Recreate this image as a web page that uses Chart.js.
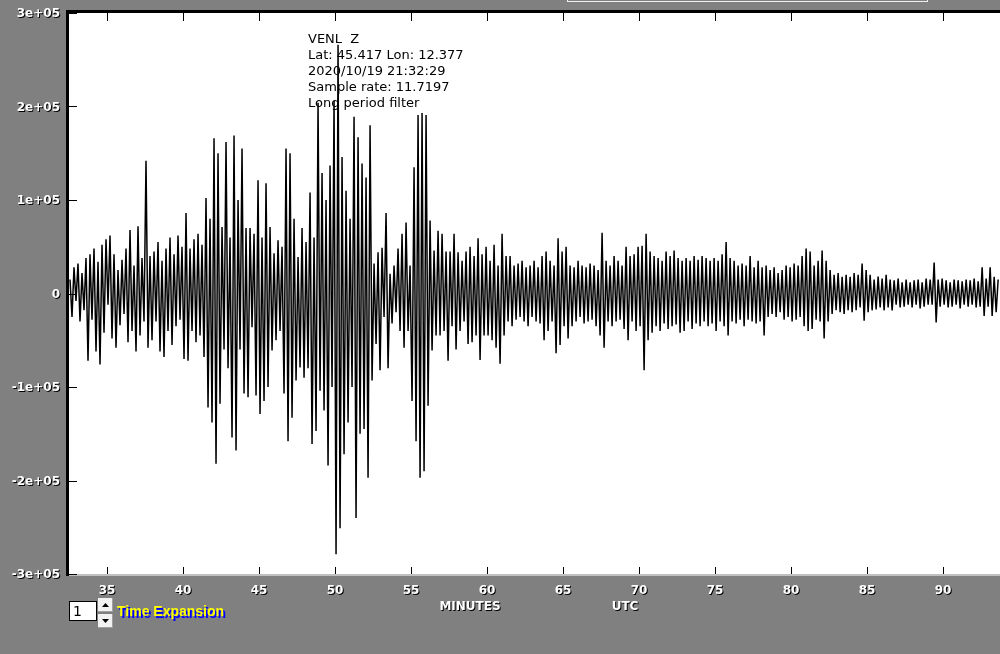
<!DOCTYPE html>
<html>
<head>
<meta charset="utf-8">
<script src="https://cdn.jsdelivr.net/npm/chart.js@4.4.1/dist/chart.umd.min.js"></script>
<style>
    body { margin: 0; background: #808080; overflow: hidden; }
    #seismo { display: block; }
</style>
</head>
<body>
<canvas id="seismo" width="1000" height="654"></canvas>
<script>
// trace peaks in thousands of counts, one every stepMin minutes
const startMin = 32.566;
const stepMin = 0.1316;
const traceK = [
    15, -25, 28, -8, 32, -30, 22, -18, 38, -72,
    42, -28, 48, -62, 34, -76, 52, -42, 58, -12,
    62, -48, 42, -58, 25, -34, 36, -22, 48, -52,
    68, -40, 30, -62, 72, -45, 38, -30, 142, -58,
    40, -50, 45, -30, 55, -62, 35, -68, 48, -40,
    60, -55, 42, -35, 62, -28, 50, -70, 86, -72,
    48, -40, 58, -52, 64, -45, 52, -68, 102, -122,
    80, -138, 166, -182, 150, -118, 71, -60, 162, -80,
    60, -154, 169, -168, 100, -60, 155, -107, 70, -111,
    70, -36, 64, -109, 121, -129, 60, -115, 118, -100,
    71, -61, 43, -50, 57, -40, 50, -107, 155, -158,
    150, -133, 80, -93, 39, -79, 70, -90, 55, -80,
    108, -161, 60, -147, 204, -104, 129, -125, 100, -184,
    137, -100, 206, -279, 266, -251, 146, -172, 110, -138,
    80, -100, 189, -240, 167, -150, 139, -145, 124, -197,
    180, -93, 32, -54, 44, -82, 49, -25, 86, -80,
    21, -32, 30, -20, 48, -40, 64, -58, 76, -40,
    30, -115, 135, -158, 191, -197, 193, -190, 191, -120,
    78, -61, 46, -45, 67, -45, 64, -40, 45, -72,
    45, -35, 64, -60, 44, -40, 35, -30, 45, -54,
    50, -52, 40, -45, 59, -71, 42, -45, 50, -45,
    35, -50, 52, -58, 30, -75, 64, -45, 40, -30,
    40, -35, 30, -28, 32, -25, 35, -30, 28, -35,
    30, -25, 35, -30, 28, -32, 40, -50, 45, -40,
    35, -30, 30, -64, 59, -55, 45, -35, 50, -48,
    30, -35, 28, -30, 35, -25, 30, -32, 28, -30,
    32, -28, 30, -35, 25, -45, 65, -58, 35, -30,
    30, -35, 40, -30, 35, -28, 30, -38, 50, -50,
    40, -30, 42, -40, 50, -35, 51, -82, 64, -50,
    45, -42, 40, -35, 38, -40, 35, -32, 45, -38,
    40, -35, 46, -33, 38, -42, 35, -40, 38, -30,
    35, -38, 40, -32, 36, -35, 40, -30, 38, -35,
    35, -32, 38, -40, 35, -30, 42, -35, 55, -45,
    38, -30, 35, -32, 30, -28, 32, -35, 30, -28,
    40, -30, 28, -32, 35, -30, 28, -45, 30, -25,
    25, -22, 28, -25, 22, -20, 25, -28, 30, -25,
    28, -30, 32, -28, 30, -25, 40, -35, 48, -40,
    45, -38, 30, -28, 35, -30, 46, -48, 35, -30,
    25, -22, 20, -18, 22, -20, 18, -22, 20, -18,
    18, -20, 22, -18, 20, -15, 32, -29, 25, -20,
    20, -18, 15, -17, 18, -15, 16, -18, 20, -15,
    15, -18, 14, -12, 16, -15, 12, -14, 15, -12,
    12, -15, 14, -12, 15, -16, 12, -14, 16, -12,
    15, -12, 33, -31, 15, -14, 16, -12, 14, -15,
    12, -14, 15, -12, 14, -16, 13, -12, 15, -14,
    14, -12, 16, -15, 13, -14, 28, -24, 16, -14,
    28, -24, 18, -20, 15
];
const xTicks = [35, 40, 45, 50, 55, 60, 65, 70, 75, 80, 85, 90];
const yTicks = [300000, 200000, 100000, 0, -100000, -200000, -300000];
const yTickLabels = ['3e+05', '2e+05', '1e+05', '0', '-1e+05', '-2e+05', '-3e+05'];
const infoLines = ['VENL  Z', 'Lat: 45.417 Lon: 12.377', '2020/10/19 21:32:29', 'Sample rate: 11.7197', 'Long period filter'];

let points = traceK.map(function (v, i) {
    return { x: startMin + i * stepMin, y: v * 1000 };
});

function shadowText(ctx, text, x, y, color, shade, dx, dy) {
    ctx.fillStyle = shade;
    ctx.fillText(text, x + dx, y + dy);
    ctx.fillStyle = color;
    ctx.fillText(text, x, y);
}

const frame = {
    id: 'frame',
    beforeDraw: function (chart) {
        const ctx = chart.ctx;
        const a = chart.chartArea;
        ctx.save();
        ctx.fillStyle = '#808080';
        ctx.fillRect(0, 0, chart.width, chart.height);
        ctx.fillStyle = '#ffffff';
        ctx.fillRect(a.left, a.top, a.right - a.left, a.bottom - a.top);
        ctx.restore();
    },
    afterDraw: function (chart) {
        const ctx = chart.ctx;
        const a = chart.chartArea;
        const x = chart.scales.x;
        const y = chart.scales.y;
        ctx.save();

        // frame lines
        ctx.fillStyle = '#000';
        ctx.fillRect(a.left - 3, a.top - 3, a.right - a.left + 3, 3);
        ctx.fillRect(a.left - 3, a.top - 3, 3, a.bottom - a.top + 5);
        ctx.fillStyle = '#c0c0c0';
        ctx.fillRect(a.left, a.bottom, a.right - a.left, 2);

        // ticks pointing inward
        ctx.fillStyle = '#000';
        xTicks.forEach(function (v) {
            let px = Math.round(x.getPixelForValue(v));
            ctx.fillRect(px, a.top, 1, 8);
            ctx.fillRect(px, a.bottom - 7, 1, 7);
        });
        yTicks.forEach(function (v) {
            let py = Math.round(y.getPixelForValue(v));
            ctx.fillRect(a.left, py, 8, 1);
        });

        // axis labels
        ctx.font = 'bold 12px "DejaVu Sans"';
        ctx.textBaseline = 'middle';
        ctx.textAlign = 'right';
        yTicks.forEach(function (v, i) {
            shadowText(ctx, yTickLabels[i], 60, y.getPixelForValue(v) + 1, '#fff', '#000', 1, 1);
        });
        ctx.textAlign = 'center';
        xTicks.forEach(function (v) {
            shadowText(ctx, String(v), x.getPixelForValue(v), a.bottom + 17, '#fff', '#000', 1, 1);
        });
        shadowText(ctx, 'MINUTES', 470, a.bottom + 33, '#fff', '#000', 1, 1);
        shadowText(ctx, 'UTC', 625, a.bottom + 33, '#fff', '#000', 1, 1);

        // station info
        ctx.font = '13px "DejaVu Sans"';
        ctx.textAlign = 'left';
        ctx.textBaseline = 'alphabetic';
        ctx.fillStyle = '#000';
        infoLines.forEach(function (t, i) {
            ctx.fillText(t, 308, 43 + i * 16);
        });

        // strip of the control above the plot
        ctx.strokeStyle = '#f0f0f0';
        ctx.lineWidth = 1;
        ctx.strokeRect(567.5, -10.5, 360, 12);

        // time expansion spinner
        ctx.fillStyle = '#fff';
        ctx.fillRect(69, 601, 28, 20);
        ctx.strokeStyle = '#000';
        ctx.strokeRect(69.5, 601.5, 27, 19);
        ctx.fillStyle = '#000';
        ctx.font = '14px "DejaVu Sans"';
        ctx.fillText('1', 73, 616);
        [598, 614].forEach(function (top, k) {
            ctx.fillStyle = '#f2f2f2';
            ctx.fillRect(98, top, 15, 14);
            ctx.fillStyle = '#a0a0a0';
            ctx.fillRect(98, top + 13, 15, 1);
            ctx.fillRect(112, top, 1, 14);
            ctx.fillStyle = '#000';
            ctx.beginPath();
            if (k === 0) {
                ctx.moveTo(102, top + 9);
                ctx.lineTo(109, top + 9);
                ctx.lineTo(105.5, top + 5);
            } else {
                ctx.moveTo(102, top + 5);
                ctx.lineTo(109, top + 5);
                ctx.lineTo(105.5, top + 9);
            }
            ctx.fill();
        });
        ctx.font = 'bold 14px "Liberation Sans"';
        shadowText(ctx, 'Time Expansion', 117, 616, '#ffff00', '#0000ff', 2, 2);

        ctx.restore();
    }
};

new Chart(document.getElementById('seismo'), {
    type: 'line',
    data: {
        datasets: [{
            label: 'VENL Z',
            data: points,
            borderColor: '#000',
            borderWidth: 1.5,
            pointRadius: 0,
            tension: 0,
            fill: false
        }]
    },
    options: {
        responsive: false,
        animation: false,
        devicePixelRatio: 1,
        layout: {
            padding: { left: 69, top: 13, right: 0, bottom: 80 }
        },
        plugins: {
            legend: { display: false },
            tooltip: { enabled: false }
        },
        scales: {
            x: { type: 'linear', min: 32.5, max: 93.75, display: false },
            y: { min: -300000, max: 300000, display: false }
        }
    },
    plugins: [frame]
});
</script>
</body>
</html>
